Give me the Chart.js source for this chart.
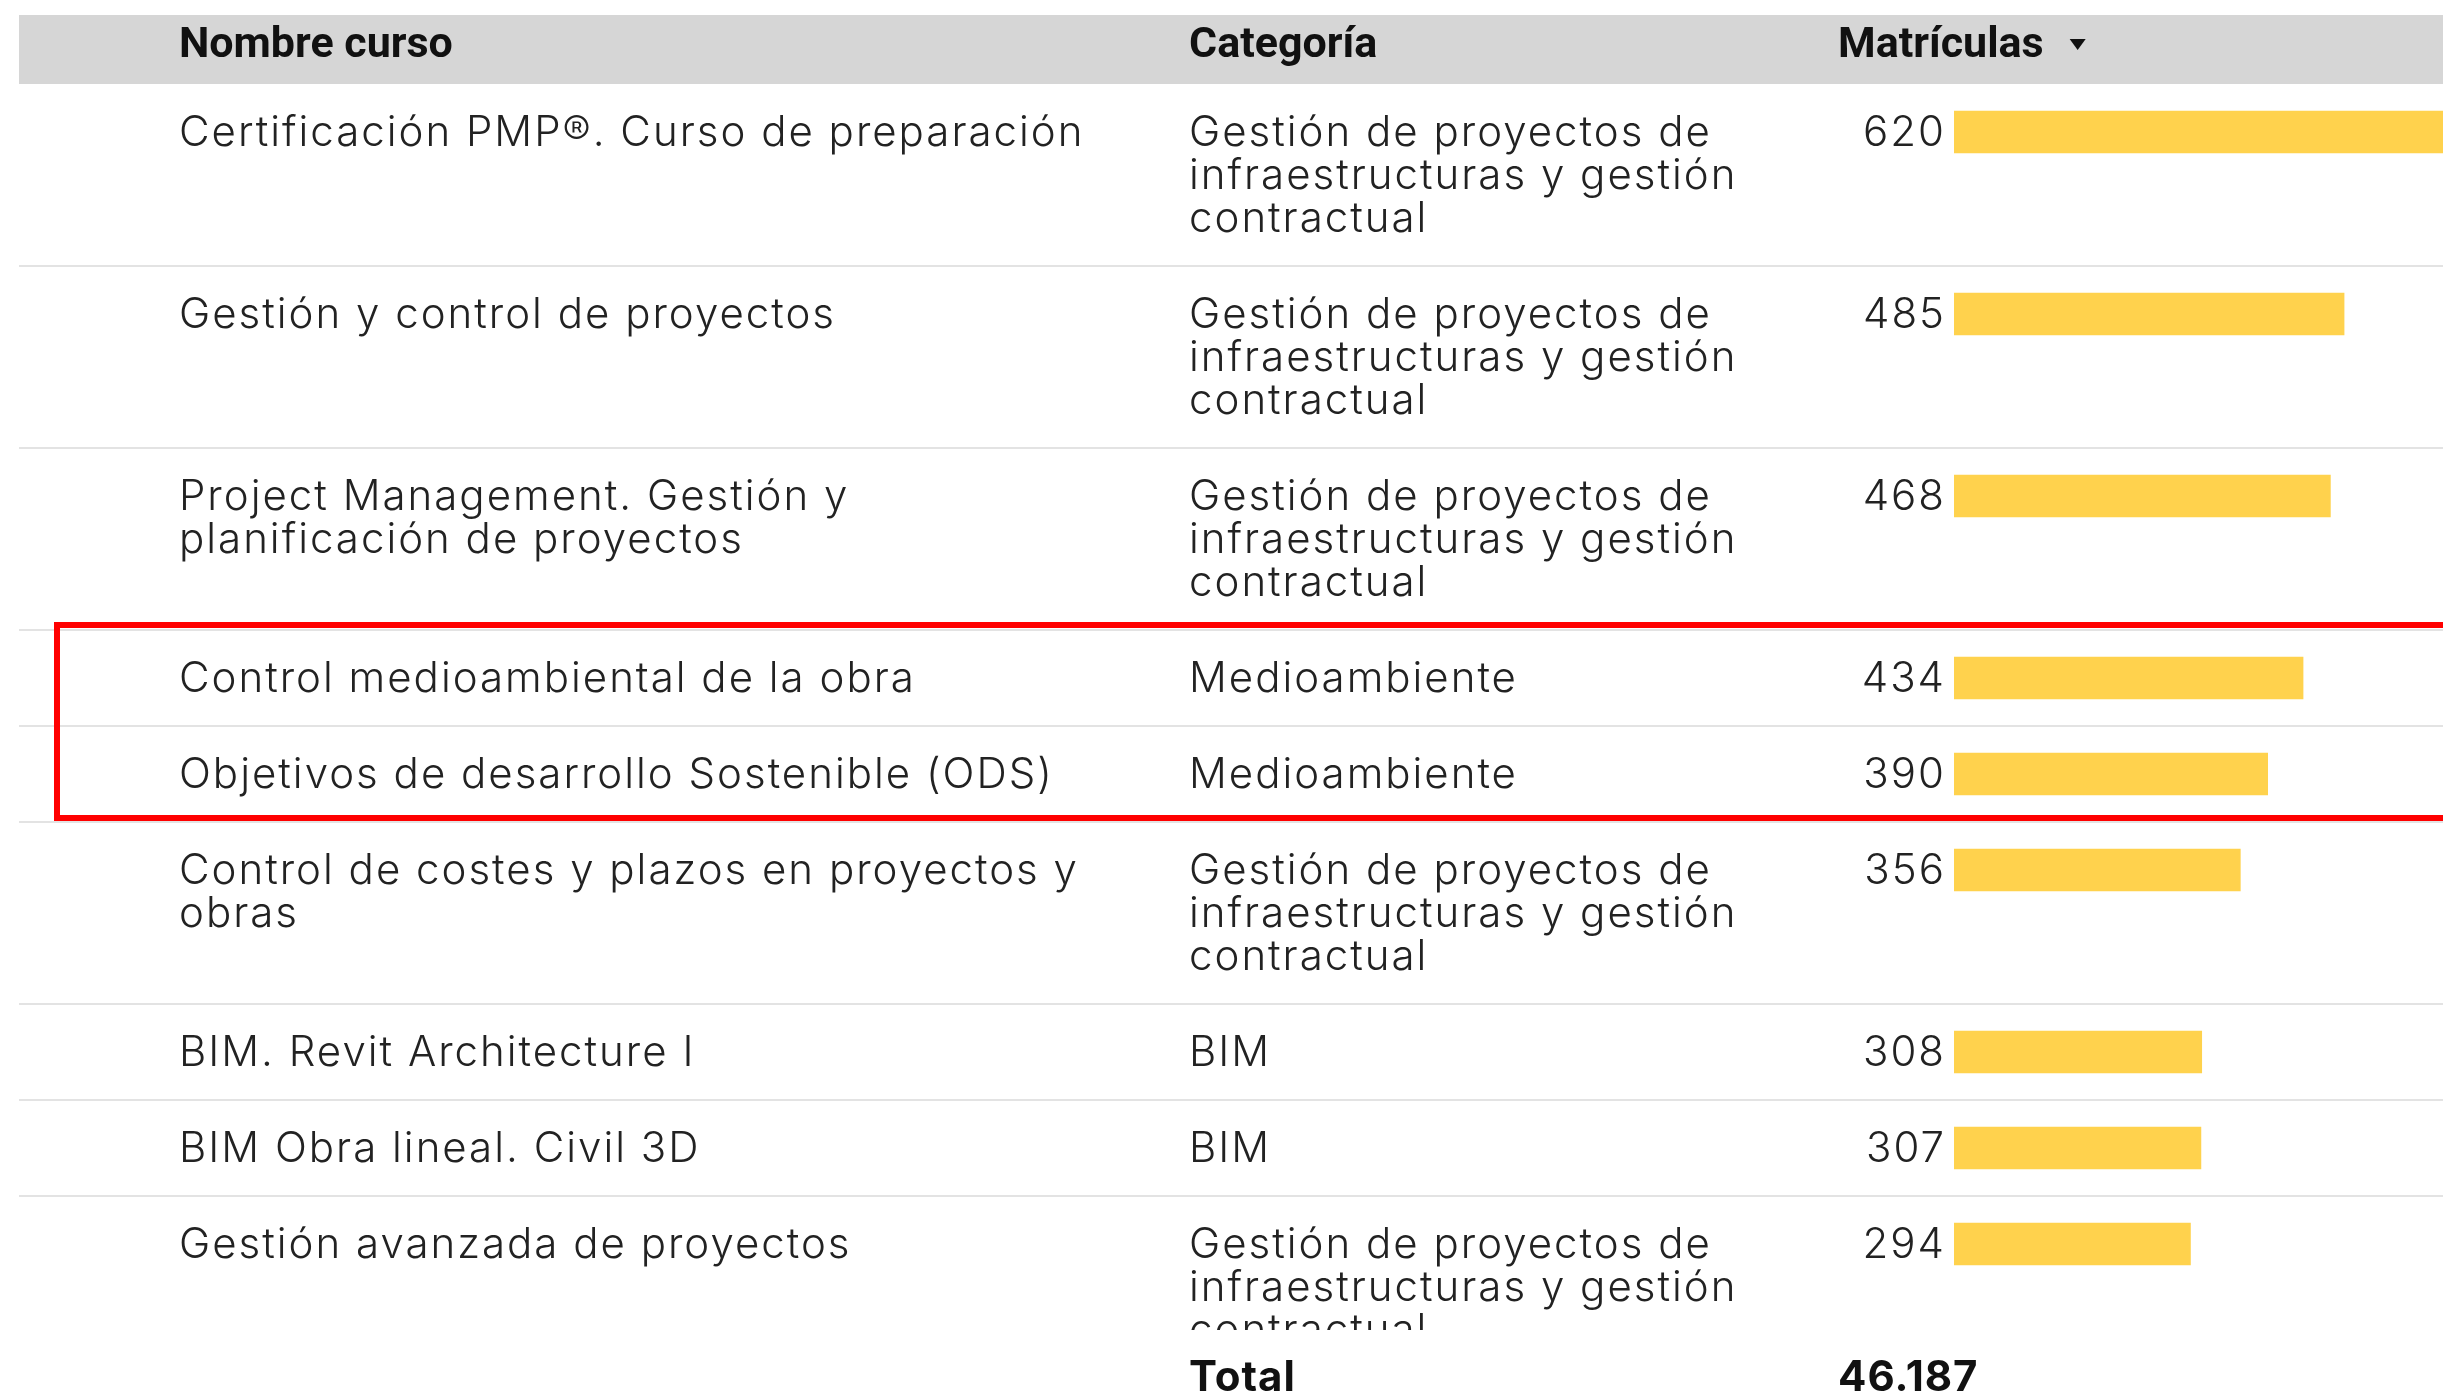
<!DOCTYPE html>
<html lang="es">
<head>
<meta charset="utf-8">
<title>Matrículas por curso</title>
<script src="https://cdn.jsdelivr.net/npm/chart.js@4.4.1/dist/chart.umd.min.js"></script>
<style>
  html, body { margin: 0; padding: 0; background: #fff; overflow: hidden; }
  canvas { display: block; }
</style>
</head>
<body>
<canvas id="tabla" width="2443" height="1394"></canvas>
<script>
const cabeceras = ['Nombre curso', 'Categoría', 'Matrículas'];
const cursos = [
    ['Certificación PMP®. Curso de preparación'],
    ['Gestión y control de proyectos'],
    ['Project Management. Gestión y', 'planificación de proyectos'],
    ['Control medioambiental de la obra'],
    ['Objetivos de desarrollo Sostenible (ODS)'],
    ['Control de costes y plazos en proyectos y', 'obras'],
    ['BIM. Revit Architecture I'],
    ['BIM Obra lineal. Civil 3D'],
    ['Gestión avanzada de proyectos']
];
const GPI = ['Gestión de proyectos de', 'infraestructuras y gestión', 'contractual'];
const categorias = [GPI, GPI, GPI, ['Medioambiente'], ['Medioambiente'], GPI, ['BIM'], ['BIM'], GPI];
const matriculas = [620, 485, 468, 434, 390, 356, 308, 307, 294];
const resaltadas = [3, 4]; // filas del recuadro rojo
const totalTexto = 'Total';
const totalValor = '46.187';

const ANCHO = 2443, ALTO = 1394;
const CAB_TOP = 15, CAB_BOTTOM = 84, TABLA_LEFT = 19;
const COL_X = [179, 1189, 1838];
const LINEA = 43, PAD_FILA = 53;
const CUERPO_BOTTOM = 1330;
const FUENTE_CUERPO = '300 42px Inter, "Open Sans", sans-serif';
const FUENTE_TOTAL = 'bold 42px Inter, "Open Sans", sans-serif';
const FUENTE_CAB = 'bold 43px Roboto, "Liberation Sans", sans-serif';

// alto de cada fila según el número de líneas de texto
const filas = [];
let yActual = CAB_BOTTOM;
cursos.forEach((c, i) => {
    const h = PAD_FILA + LINEA * Math.max(c.length, categorias[i].length);
    filas.push({ top: yActual, h: h });
    yActual += h;
});

const tablaPlugin = {
    id: 'tabla',
    beforeDatasetsDraw(chart) {
        const c = chart.ctx;
        c.save();
        c.fillStyle = '#d6d6d6';
        c.fillRect(TABLA_LEFT, CAB_TOP, ANCHO - TABLA_LEFT, CAB_BOTTOM - CAB_TOP);
        c.fillStyle = '#111';
        c.font = FUENTE_CAB;
        c.textBaseline = 'alphabetic';
        cabeceras.forEach((t, i) => c.fillText(t, COL_X[i], 57));
        // flecha de orden
        const fx = COL_X[2] + c.measureText(cabeceras[2]).width + 26;
        c.beginPath();
        c.moveTo(fx, 39);
        c.lineTo(fx + 16, 39);
        c.lineTo(fx + 8, 50);
        c.closePath();
        c.fill();
        c.fillStyle = '#e3e3e3';
        filas.forEach(f => {
            if (f.top + f.h < CUERPO_BOTTOM) c.fillRect(TABLA_LEFT, f.top + f.h - 1, ANCHO, 2);
        });
        c.restore();
    },
    afterDatasetsDraw(chart) {
        const c = chart.ctx;
        const x0 = chart.scales.x.getPixelForValue(0);
        c.save();
        c.beginPath();
        c.rect(0, CAB_BOTTOM, ANCHO, CUERPO_BOTTOM - CAB_BOTTOM);
        c.clip();
        c.font = FUENTE_CUERPO;
        c.letterSpacing = '2px';
        c.fillStyle = '#222';
        c.textBaseline = 'alphabetic';
        filas.forEach((f, i) => {
            c.textAlign = 'left';
            cursos[i].forEach((l, k) => c.fillText(l, COL_X[0], f.top + 62 + k * LINEA));
            categorias[i].forEach((l, k) => c.fillText(l, COL_X[1], f.top + 62 + k * LINEA));
            c.textAlign = 'right';
            c.fillText(String(matriculas[i]), x0 - 8, f.top + 62);
        });
        c.restore();

        c.save();
        c.font = FUENTE_TOTAL;
        c.letterSpacing = '1px';
        c.fillStyle = '#111';
        c.fillText(totalTexto, COL_X[1], 1391);
        c.fillText(totalValor, COL_X[2], 1391);
        // recuadro rojo
        const a = filas[resaltadas[0]];
        const b = filas[resaltadas[resaltadas.length - 1]];
        c.strokeStyle = '#ff0000';
        c.lineWidth = 6;
        c.strokeRect(57, a.top - 5, ANCHO, b.top + b.h - a.top + 1);
        c.restore();
    }
};

const ctx = document.getElementById('tabla').getContext('2d');
new Chart(ctx, {
    type: 'bar',
    data: {
        datasets: [{
            data: matriculas.map((v, i) => ({ x: v, y: filas[i].top + 48 })),
            backgroundColor: '#ffd24d',
            borderWidth: 0,
            barThickness: 42
        }]
    },
    options: {
        indexAxis: 'y',
        responsive: false,
        animation: false,
        devicePixelRatio: 1,
        layout: { padding: { left: 1954, right: 0, top: 0, bottom: 0 } },
        scales: {
            x: { type: 'linear', min: 0, max: 608, display: false },
            y: { type: 'linear', min: 0, max: ALTO, reverse: true, offset: false, display: false }
        },
        plugins: {
            legend: { display: false },
            tooltip: { enabled: false }
        }
    },
    plugins: [tablaPlugin]
});
</script>
</body>
</html>
